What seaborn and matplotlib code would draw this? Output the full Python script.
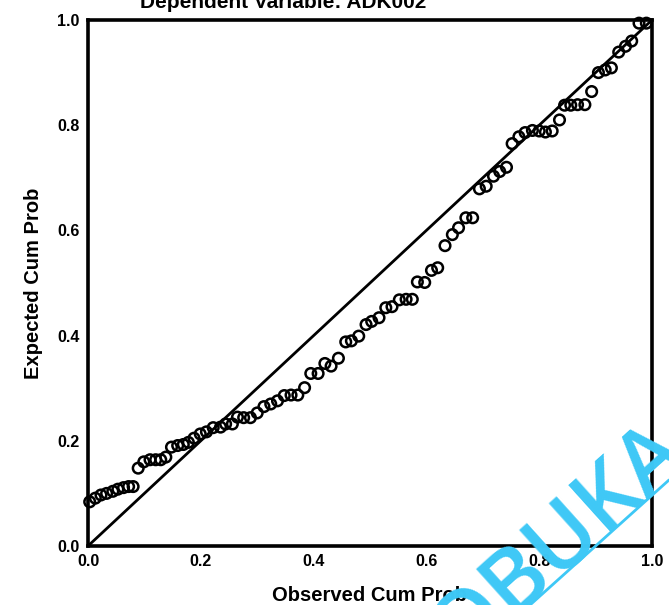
import matplotlib
matplotlib.use("Agg")
import matplotlib.pyplot as plt
import seaborn as sns
import pandas as pd
from matplotlib.lines import Line2D

# Observed vs expected cumulative probabilities
observed_cum_prob = [
    0.003, 0.013, 0.023, 0.033, 0.044, 0.053, 0.063, 0.072, 0.080, 0.089,
    0.099, 0.110, 0.120, 0.129, 0.138, 0.148, 0.159, 0.169, 0.178, 0.188,
    0.199, 0.210, 0.222, 0.235, 0.244, 0.256, 0.265, 0.276, 0.288, 0.300,
    0.312, 0.324, 0.336, 0.348, 0.360, 0.372, 0.384, 0.395, 0.408, 0.420,
    0.431, 0.444, 0.457, 0.467, 0.480, 0.493, 0.503, 0.516, 0.528, 0.539,
    0.552, 0.564, 0.575, 0.584, 0.597, 0.609, 0.620, 0.633, 0.646, 0.657,
    0.670, 0.682, 0.694, 0.706, 0.719, 0.730, 0.742, 0.752, 0.764, 0.775,
    0.788, 0.800, 0.811, 0.823, 0.836, 0.845, 0.856, 0.868, 0.881, 0.893,
    0.905, 0.917, 0.928, 0.941, 0.953, 0.964, 0.977, 0.990,
]
expected_cum_prob = [
    0.084, 0.091, 0.097, 0.100, 0.104, 0.108, 0.111, 0.113, 0.113, 0.148,
    0.160, 0.164, 0.164, 0.164, 0.169, 0.188, 0.191, 0.193, 0.197, 0.205,
    0.213, 0.217, 0.225, 0.226, 0.232, 0.232, 0.245, 0.244, 0.244, 0.253,
    0.265, 0.270, 0.276, 0.286, 0.287, 0.287, 0.301, 0.328, 0.328, 0.347,
    0.342, 0.357, 0.388, 0.390, 0.399, 0.421, 0.427, 0.434, 0.453, 0.455,
    0.468, 0.469, 0.469, 0.502, 0.501, 0.524, 0.529, 0.571, 0.592, 0.605,
    0.624, 0.624, 0.679, 0.684, 0.703, 0.712, 0.720, 0.765, 0.778, 0.786,
    0.790, 0.789, 0.787, 0.789, 0.810, 0.838, 0.838, 0.839, 0.839, 0.864,
    0.900, 0.905, 0.909, 0.939, 0.950, 0.960, 0.994, 0.994,
]
diag_x = [0.0, 1.0]
diag_y = [0.0, 1.0]
tick_values = [0.0, 0.2, 0.4, 0.6, 0.8, 1.0]
tick_labels = ["0.0", "0.2", "0.4", "0.6", "0.8", "1.0"]

title_text = "Dependent Variable: ADK002"
x_label = "Observed Cum Prob"
y_label = "Expected Cum Prob"
watermark = "OBUKA"

sns.set_theme(style="white")
plt.rcParams["font.family"] = ["Liberation Sans", "DejaVu Sans"]

df = pd.DataFrame({"obs": observed_cum_prob, "exp": expected_cum_prob})
diag = pd.DataFrame({"x": diag_x, "y": diag_y})

fig = plt.figure(figsize=(6.69, 6.05), dpi=100)
ax = fig.add_axes([88 / 669, 1 - 546 / 605, (652 - 88) / 669, (546 - 20) / 605])

sns.lineplot(data=diag, x="x", y="y", color="black", linewidth=2.0, ax=ax)
sns.scatterplot(data=df, x="obs", y="exp", marker="o", s=58,
                facecolor="none", edgecolor="black", linewidth=1.8,
                ax=ax, clip_on=False, zorder=3)

ax.set_xlim(0, 1)
ax.set_ylim(0, 1)
ax.set_xticks(tick_values)
ax.set_xticklabels(tick_labels)
ax.set_yticks(tick_values)
ax.set_yticklabels(tick_labels)
ax.tick_params(axis="both", direction="out", length=5, width=1.8,
               color="black", labelcolor="black", labelsize=11.5, pad=1)
for lab in ax.get_xticklabels() + ax.get_yticklabels():
    lab.set_fontweight("bold")
for sp in ax.spines.values():
    sp.set_visible(True)
    sp.set_color("black")
    sp.set_linewidth(2.6)

ax.set_xlabel(x_label, fontsize=14.5, fontweight="bold", color="black",
              labelpad=12)
ax.set_ylabel(y_label, fontsize=14.5, fontweight="bold", color="black",
              labelpad=10)

fig.text(283 / 669, 1 - 8 / 605, title_text, ha="center", va="baseline",
         fontsize=15, fontweight="bold", color="black")

# watermark overlay
fig.text(560 / 669, 1 - 543 / 605, watermark, ha="center", va="center",
         rotation=42, rotation_mode="anchor", fontsize=64, color="#3EC8F6",
         family=["Open Sans", "DejaVu Sans"], fontweight="semibold", zorder=10)
fig.add_artist(Line2D([530 / 669, 1.0], [1 - 605 / 605, 1 - 480 / 605],
                      transform=fig.transFigure, color="#3EC8F6",
                      linewidth=2.0, zorder=10))

fig.savefig("out.png", dpi=100)
